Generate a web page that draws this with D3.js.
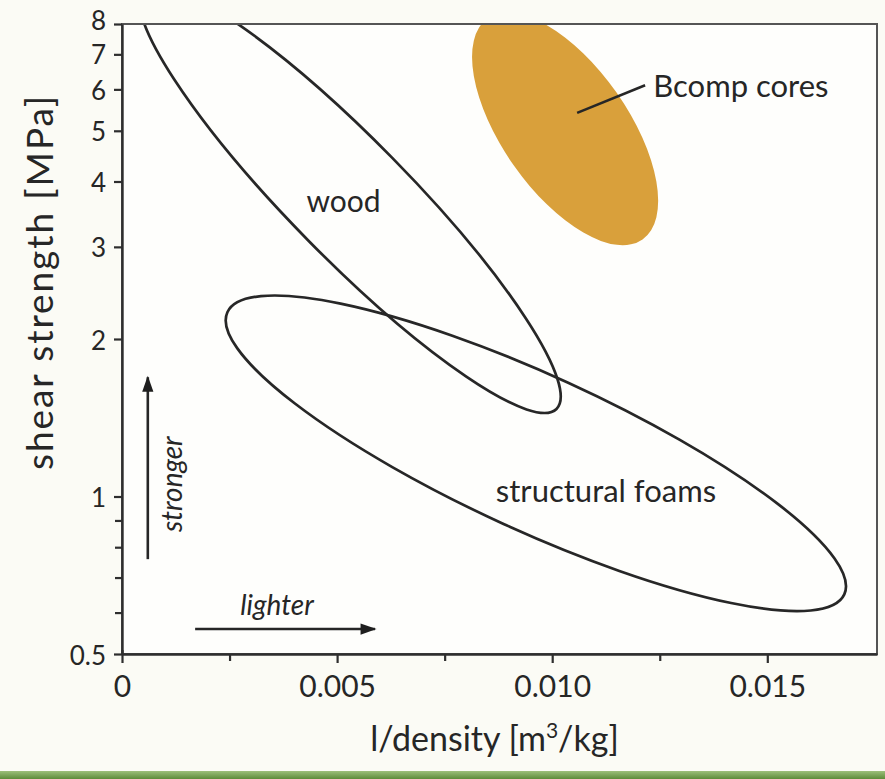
<!DOCTYPE html>
<html>
<head>
<meta charset="utf-8">
<script src="https://cdn.jsdelivr.net/npm/d3@7"></script>
<style>
  html, body { margin: 0; padding: 0; background: #fbfbf5; }
  svg { display: block; }
  text { font-family: Lato, "Noto Sans", sans-serif; fill: #262626; }
</style>
</head>
<body>
<svg id="chart" width="885" height="779"></svg>
<script>
// Axis ticks
const xTicks = [0, 0.005, 0.010, 0.015];
const xTickLabels = ["0", "0.005", "0.010", "0.015"];
const xMinorTicks = [0.0025, 0.0075, 0.0125];
const yTicks = [0.5, 1, 2, 3, 4, 5, 6, 7, 8];
const yTickLabels = ["0.5", "1", "2", "3", "4", "5", "6", "7", "8"];
const yMinorTicks = [0.6, 0.7, 0.8, 0.9];

// Material regions: ends of the long axis [1/density, shear strength] and thickness ratio
const regionNames = ["wood", "structural foams", "Bcomp cores"];
const regionStart = [[0.0005, 9.34], [0.00245, 2.25], [0.0085, 8.2]];
const regionEnd   = [[0.0101, 1.47], [0.01679, 0.650], [0.0121, 3.1]];
const regionRatio = [0.20, 0.229, 0.467];
const regionFilled = [false, false, true];

// Label anchors in data units
const labelPos = [[0.00515, 3.69], [0.01125, 1.03], [0.01235, 6.12]];
const leaderFrom = [0.01058, 5.41];
const leaderTo = [0.01216, 6.11];

// Direction hints
const strongerArrow = { x: 0.0006, y0: 0.759, y1: 1.69 };
const lighterArrow = { y: 0.558, x0: 0.0017, x1: 0.00588 };

const svg = d3.select("#chart");
const mLeft = 122, mRight = 877, mTop = 24, mBottom = 654;

const x = d3.scaleLinear().domain([0, 0.01755]).range([mLeft, mRight]);
const y = d3.scaleLog().domain([0.5, 8]).range([mBottom, mTop]);

// plot background
svg.append("rect").attr("x", mLeft).attr("y", mTop)
  .attr("width", mRight - mLeft).attr("height", mBottom - mTop)
  .attr("fill", "#fefefc");

const defs = svg.append("defs");
defs.append("clipPath").attr("id", "plotClip")
  .append("rect").attr("x", mLeft).attr("y", mTop)
  .attr("width", mRight - mLeft).attr("height", mBottom - mTop);

const plot = svg.append("g").attr("clip-path", "url(#plotClip)");

// ellipses
regionNames.forEach((name, i) => {
  const p1 = [x(regionStart[i][0]), y(regionStart[i][1])];
  const p2 = [x(regionEnd[i][0]), y(regionEnd[i][1])];
  const cx = (p1[0] + p2[0]) / 2, cy = (p1[1] + p2[1]) / 2;
  const a = Math.hypot(p2[0] - p1[0], p2[1] - p1[1]) / 2;
  const b = a * regionRatio[i];
  const ang = Math.atan2(p2[1] - p1[1], p2[0] - p1[0]) * 180 / Math.PI;
  plot.append("ellipse")
    .attr("cx", 0).attr("cy", 0).attr("rx", a).attr("ry", b)
    .attr("transform", `translate(${cx},${cy}) rotate(${ang})`)
    .attr("fill", regionFilled[i] ? "#d9a03b" : "none")
    .attr("stroke", regionFilled[i] ? "none" : "#272727")
    .attr("stroke-width", 2.7);
});

// frame
svg.append("rect").attr("x", mLeft).attr("y", mTop)
  .attr("width", mRight - mLeft).attr("height", mBottom - mTop)
  .attr("fill", "none").attr("stroke", "#555").attr("stroke-width", 2);

// axes
const xAxis = d3.axisBottom(x).tickValues(xTicks).tickFormat((d, i) => xTickLabels[i])
  .tickSize(9).tickSizeOuter(0).tickPadding(13);
const gx = svg.append("g").attr("transform", `translate(0,${mBottom})`).call(xAxis);
gx.selectAll(".tick").filter((d, i) => i === 0).select("line").attr("y1", -4);
const gxm = svg.append("g").attr("transform", `translate(0,${mBottom})`)
  .call(d3.axisBottom(x).tickValues(xMinorTicks).tickFormat("").tickSize(7));
gxm.select(".domain").remove();

const yAxis = d3.axisLeft(y).tickValues(yTicks).tickFormat((d, i) => yTickLabels[i])
  .tickSize(8).tickSizeOuter(0).tickPadding(8);
const gy = svg.append("g").attr("transform", `translate(${mLeft},0)`).call(yAxis);
const gym = svg.append("g").attr("transform", `translate(${mLeft},0)`)
  .call(d3.axisLeft(y).tickValues(yMinorTicks).tickFormat("").tickSize(7));
gym.select(".domain").remove();

[gx, gy, gxm, gym].forEach(g => {
  g.selectAll("path.domain").attr("stroke", "#2e2e2e").attr("stroke-width", 2.4);
  g.selectAll(".tick line").attr("stroke", "#2e2e2e").attr("stroke-width", 2.2);
});
gx.selectAll(".tick text").attr("font-size", 30).attr("font-family", "Lato").attr("fill", "#262626");
gy.selectAll(".tick text").attr("font-size", 26).attr("font-family", "Lato").attr("fill", "#262626");
// the crowded top labels are nudged apart
gy.selectAll(".tick text")
  .attr("dominant-baseline", "central")
  .attr("dy", d => d === 8 ? -5 : d === 7 ? -1 : 0);

// axis titles
const xt = svg.append("text").attr("x", (mLeft + mRight) / 2 - 5).attr("y", 751)
  .attr("text-anchor", "middle").attr("font-size", 34);
xt.append("tspan").text("l/density [m");
xt.append("tspan").attr("font-size", 21).attr("dy", -13).text("3");
xt.append("tspan").attr("dy", 13).text("/kg]");

svg.append("text").attr("transform", "translate(53,283) rotate(-90)")
  .attr("text-anchor", "middle").attr("font-size", 37)
  .attr("textLength", 374).attr("lengthAdjust", "spacing")
  .text("shear strength [MPa]");

// region labels
svg.append("text").attr("x", x(labelPos[0][0])).attr("y", y(labelPos[0][1]))
  .attr("text-anchor", "middle").attr("dominant-baseline", "central")
  .attr("font-size", 30).text(regionNames[0]);
svg.append("text").attr("x", x(labelPos[1][0])).attr("y", y(labelPos[1][1]))
  .attr("text-anchor", "middle").attr("dominant-baseline", "central")
  .attr("font-size", 31).text(regionNames[1]);
svg.append("text").attr("x", x(labelPos[2][0])).attr("y", y(labelPos[2][1]))
  .attr("text-anchor", "start").attr("dominant-baseline", "central")
  .attr("font-size", 31).text(regionNames[2]);
svg.append("line")
  .attr("x1", x(leaderFrom[0])).attr("y1", y(leaderFrom[1]))
  .attr("x2", x(leaderTo[0])).attr("y2", y(leaderTo[1]))
  .attr("stroke", "#262626").attr("stroke-width", 2.6);

// direction arrows
defs.append("marker").attr("id", "head").attr("viewBox", "0 0 10 10")
  .attr("refX", 9).attr("refY", 5)
  .attr("markerUnits", "userSpaceOnUse").attr("orient", "auto")
  .attr("markerWidth", 24).attr("markerHeight", 16)
  .append("path").attr("d", "M0,1.5 L10,5 L0,8.5 Z").attr("fill", "#1e1e1e");

svg.append("line")
  .attr("x1", x(strongerArrow.x)).attr("x2", x(strongerArrow.x))
  .attr("y1", y(strongerArrow.y0)).attr("y2", y(strongerArrow.y1))
  .attr("stroke", "#262626").attr("stroke-width", 2.6).attr("marker-end", "url(#head)");
svg.append("text")
  .attr("transform", `translate(${x(strongerArrow.x) + 23},${(y(strongerArrow.y0) + y(strongerArrow.y1)) / 2 + 16}) rotate(-90)`)
  .attr("text-anchor", "middle").attr("dominant-baseline", "central")
  .attr("font-size", 28).attr("font-style", "italic").text("stronger");

svg.append("line")
  .attr("x1", x(lighterArrow.x0)).attr("x2", x(lighterArrow.x1))
  .attr("y1", y(lighterArrow.y)).attr("y2", y(lighterArrow.y))
  .attr("stroke", "#262626").attr("stroke-width", 2.6).attr("marker-end", "url(#head)");
svg.append("text")
  .attr("x", (x(lighterArrow.x0) + x(lighterArrow.x1)) / 2 - 8).attr("y", y(lighterArrow.y) - 14)
  .attr("text-anchor", "middle").attr("font-size", 28).attr("font-style", "italic").text("lighter");

// green strip along the bottom edge
const grad = defs.append("linearGradient").attr("id", "strip").attr("x1", 0).attr("y1", 0).attr("x2", 0).attr("y2", 1);
grad.append("stop").attr("offset", 0).attr("stop-color", "#9cbf7a");
grad.append("stop").attr("offset", 1).attr("stop-color", "#5d8b3a");
svg.append("rect").attr("x", 0).attr("y", 771).attr("width", 885).attr("height", 8).attr("fill", "url(#strip)");
</script>
</body>
</html>
